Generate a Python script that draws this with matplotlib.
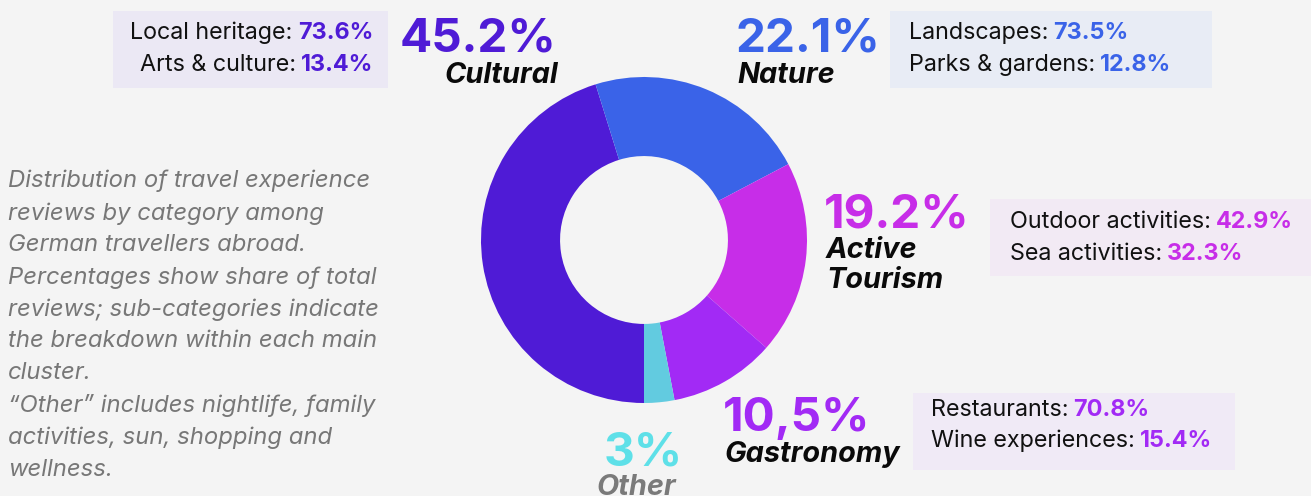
import matplotlib
matplotlib.use("Agg")
import matplotlib.pyplot as plt
from matplotlib import font_manager

W, H = 1311, 496
BG = "#f4f4f4"

categories = ["Cultural", "Nature", "Active\nTourism", "Gastronomy", "Other"]
shares = [45.2, 22.1, 19.2, 10.5, 3.0]
share_labels = ["45.2%", "22.1%", "19.2%", "10,5%", "3%"]
wedge_colors = ["#4f1bd6", "#3a63e8", "#c72de8", "#a22af5", "#62cbe0"]
text_colors = ["#4f1bd6", "#3a63e8", "#c72de8", "#a22af5", "#5ee0e8"]

sub_labels = [
    ["Local heritage:", "Arts & culture:"],
    ["Landscapes:", "Parks & gardens:"],
    ["Outdoor activities:", "Sea activities:"],
    ["Restaurants:", "Wine experiences:"],
]
sub_values = [
    ["73.6%", "13.4%"],
    ["73.5%", "12.8%"],
    ["42.9%", "32.3%"],
    ["70.8%", "15.4%"],
]
box_colors = ["#ebe8f4", "#e8ecf5", "#f2eaf4", "#f0eaf6"]

note = ("Distribution of travel experience\nreviews by category among\n"
        "German travellers abroad.\nPercentages show share of total\n"
        "reviews; sub-categories indicate\nthe breakdown within each main\n"
        "cluster.\n\u201cOther\u201d includes nightlife, family\n"
        "activities, sun, shopping and\nwellness.")

names = {f.name for f in font_manager.fontManager.ttflist}
FONT = "Inter" if "Inter" in names else "DejaVu Sans"
plt.rcParams["font.family"] = [FONT, "DejaVu Sans"]

fig = plt.figure(figsize=(W / 100, H / 100), dpi=100, facecolor=BG)


def fx(x):
    return x / W


def fy(y):
    return 1 - y / H


# donut
ax = fig.add_axes([fx(481), fy(403), 326 / W, 326 / H])
ax.pie(shares, colors=wedge_colors, startangle=-90, counterclock=False,
       radius=1, wedgeprops=dict(width=0.485, linewidth=0))
ax.set_xlim(-1, 1)
ax.set_ylim(-1, 1)
ax.set_aspect("equal")
ax.axis("off")

renderer = fig.canvas.get_renderer()
SUB = 16.8


def width_px(t):
    return t.get_window_extent(renderer).width


def box_lines(i, x, ys, align):
    for lab, val, y in zip(sub_labels[i], sub_values[i], ys):
        if align == "right":
            tv = fig.text(fx(x), fy(y), val, fontsize=SUB, fontweight="bold",
                          color=text_colors[i], ha="right", va="baseline")
            w = width_px(tv)
            fig.text(fx(x - w - 5), fy(y), lab, fontsize=SUB, color="#111111",
                     ha="right", va="baseline")
        else:
            tl = fig.text(fx(x), fy(y), lab, fontsize=SUB, color="#111111",
                          ha="left", va="baseline")
            w = width_px(tl)
            fig.text(fx(x + w + 5), fy(y), val, fontsize=SUB, fontweight="bold",
                     color=text_colors[i], ha="left", va="baseline")


def box(i, x0, y0, x1, y1):
    fig.patches.append(plt.Rectangle((fx(x0), fy(y1)), (x1 - x0) / W, (y1 - y0) / H,
                                     transform=fig.transFigure, facecolor=box_colors[i],
                                     edgecolor="none", zorder=0))


box(0, 113, 11, 388, 88)
box_lines(0, 373, [39, 71], "right")
box(1, 890, 11, 1212, 88)
box_lines(1, 909, [39, 71], "left")
box(2, 990, 199, 1311, 276)
box_lines(2, 1010, [228, 260], "left")
box(3, 913, 393, 1235, 470)
box_lines(3, 931, [416, 447], "left")

big = dict(fontsize=34.3, fontweight="bold", va="baseline")
cat = dict(fontsize=20.8, fontweight="bold", style="italic", va="baseline", color="#0a0a0a")

fig.text(fx(557), fy(52), share_labels[0], color=text_colors[0], ha="right", **big)
fig.text(fx(558), fy(83), categories[0], ha="right", **cat)

fig.text(fx(736), fy(52), share_labels[1], color=text_colors[1], ha="left", **big)
fig.text(fx(737), fy(83), categories[1], ha="left", **cat)

fig.text(fx(824), fy(228), share_labels[2], color=text_colors[2], ha="left", **big)
fig.text(fx(826), fy(258), "Active", ha="left", **cat)
fig.text(fx(826), fy(288), "Tourism", ha="left", **cat)

fig.text(fx(723), fy(431), share_labels[3], color=text_colors[3], ha="left", **big)
fig.text(fx(724), fy(462), categories[3], ha="left", **cat)

fig.text(fx(643), fy(465), share_labels[4], color=text_colors[4], ha="center", **big)
cat_other = dict(cat, color="#7a7a7a")
fig.text(fx(636), fy(495), categories[4], ha="center", **cat_other)

fig.text(fx(8), fy(170), note, fontsize=17.2, style="italic", color="#777777",
         ha="left", va="top", linespacing=1.56)

fig.savefig("out.png", dpi=100, facecolor=BG)
